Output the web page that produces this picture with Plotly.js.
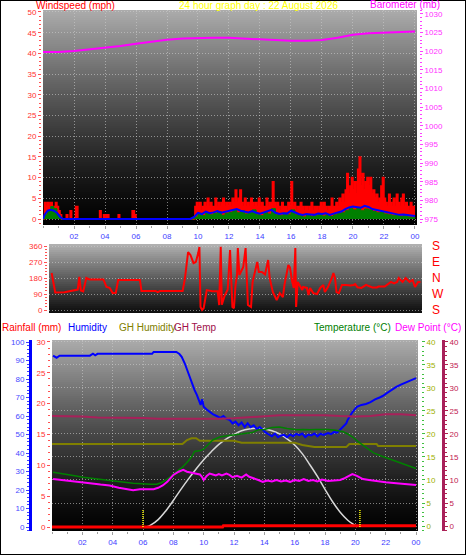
<!DOCTYPE html>
<html><head><meta charset="utf-8">
<script src="https://cdn.plot.ly/plotly-3.0.1.min.js"></script>
<style>html,body{margin:0;padding:0;background:#fff;}#chart{width:466px;height:555px;}</style>
</head><body><div id="chart"></div>
<script>
// ---------------- DATA ----------------
const hourTicks = [2,4,6,8,10,12,14,16,18,20,22,24];
const hourLabels = ['02','04','06','08','10','12','14','16','18','20','22','00'];
const hours = [0,1,2,3,4,5,6,7,8,9,10,11,12,13,14,15,16,17,18,19,20,21,22,23,24];

// Barometer (mb), hourly
const barometer = [1019.8,1019.8,1020.1,1020.5,1020.9,1021.4,1022.0,1022.6,1023.1,1023.4,1023.6,1023.6,1023.6,1023.4,1023.1,1023.0,1022.8,1022.8,1023.0,1023.6,1024.4,1024.8,1025.0,1025.2,1025.3];

// Wind gust (mph) - early, irregular readings
const gustEarlyTimes = [0,0.1,0.2,0.3,0.4,0.5,0.6,0.7,0.8,0.9,1.0,1.1,1.2,1.5,1.6,1.75,1.85,2.1,2.25,3.65,3.75,3.9,4.0,4.1,4.25,4.85,4.95,5.75,5.9,6.0,9.7];
const gustEarly = [0,4,3,4,3,4,3,3,4,3,2,1,0,1,0,2,0,3,0,2,0,1,0,1,0,1,0,2,1,0,0];
// Wind gust (mph) - every 6 minutes from 09:48
const gustLateStart = 9.8, gustLateStep = 0.1;
const gustLate = [3,4,3,4,2,3,4,3,5,3,4,3,
  3,5,3,4,3,4,5,3,4,3,
  4,3,5,4,7,4,5,7,4,3,
  5,3,4,3,5,4,3,4,3,5,
  3,4,3,3,5,3,4,4,9,4,
  3,4,3,2,4,3,3,2,4,3,
  9,3,4,2,3,3,4,3,2,3,
  3,2,3,4,2,3,3,2,3,4,
  3,4,3,2,3,3,5,3,3,4,
  3,5,4,6,4,7,11,6,8,10,
  7,9,6,12,15,8,11,7,9,10,
  8,10,6,7,5,6,4,5,8,10,
  5,4,3,6,4,3,5,3,6,4,
  3,5,6,3,4,3,2,4,3,3,
  3];
// Average wind and latest wind (mph)
const avgEarlyTimes = [0,0.1,0.3,0.5,0.7,0.9,1.1,1.3,9.5];
const avgEarly = [0,1,2,2.2,2,1.5,0.5,0,0];
const latestEarly = [0,1,2,3,2.5,1,0,0,0];
const avgLateStart = 9.75, avgLateStep = 0.25;
const avgLate = [0.5,1.5,1.2,1.8,1.4,1.6,1.9,1.5,1.7,2.0,
  2.2,2.4,2.0,1.8,1.6,1.9,1.5,1.3,1.6,1.8,
  2.2,1.5,1.2,1.4,1.3,2.0,1.5,1.2,1.0,1.2,
  1.1,1.0,1.3,1.2,1.4,1.0,1.3,1.6,1.8,2.4,
  2.8,3.0,2.9,2.7,3.2,2.9,2.4,2.2,2.0,1.8,
  1.6,1.3,1.2,1.0,1.1,1.0,0.8,0.7];
const latestLate = [0.5,1.2,0.8,1.5,1.0,1.3,1.8,0.9,1.4,1.6,
  2.3,1.5,2.0,1.2,1.5,2.2,1.0,0.8,1.5,1.2,
  2.5,1.0,0.8,1.4,1.0,2.2,1.0,0.8,0.5,1.0,
  0.6,0.8,1.2,0.7,1.0,0.6,1.0,1.3,1.5,2.0,
  2.5,2.2,2.6,2.0,2.4,2.2,1.8,1.5,1.6,1.2,
  1.0,0.8,1.0,0.6,0.8,0.5,0.4,0.3];

// Wind direction (degrees)
const dirTimes = [0.17,0.4,1.0,1.3,1.6,1.85,1.95,2.05,2.2,2.4,
  2.6,3.5,3.7,3.9,4.1,4.3,4.45,5.85,5.95,6.85,
  7.0,7.15,8.6,8.75,8.95,9.1,9.3,9.45,9.6,9.68,
  9.75,9.85,9.95,10.15,10.5,10.85,10.95,11.05,11.12,11.3,
  11.5,11.65,11.8,11.9,12.0,12.1,12.15,12.25,12.5,12.65,
  12.8,13.0,13.1,13.4,13.5,13.7,13.9,14.1,14.2,14.4,
  14.65,14.85,15.05,15.15,15.4,15.5,15.65,15.75,15.85,15.9,
  16.0,16.1,16.3,16.35,16.6,16.7,16.8,17.0,17.25,17.45,
  17.65,17.75,17.95,18.2,18.3,18.4,18.5,18.65,18.85,19.1,
  19.4,19.6,19.7,19.85,20.1,20.4,20.6,20.8,21.1,21.2,
  21.6,21.8,22.0,22.2,22.4,22.5,22.75,22.95,23.2,23.4,
  23.55,23.75,23.9];
const dirValues = [208,99,100,105,112,115,187,110,105,180,
  172,172,130,125,95,97,169,169,107,107,
  100,107,107,180,326,310,264,270,320,354,
  17,0,10,112,105,105,28,355,30,80,
  115,337,17,10,140,197,348,197,242,348,
  28,17,158,270,214,214,200,281,180,101,
  56,95,73,141,253,240,158,124,348,17,
  158,141,112,129,124,84,124,95,90,124,
  141,101,129,180,208,180,101,95,141,141,
  138,141,146,128,124,141,135,127,127,132,
  132,146,158,150,158,180,158,180,158,169,
  129,158,158];
const dirTickVals = [0,90,180,270,360];
const compassLabels = ['S','W','N','E','S'];

// Humidity (%)
const humTimes = [0.07,0.3,0.5,2.5,2.7,2.85,3.0,6.6,6.7,8.2,
  8.4,8.55,8.75,8.9,9.05,9.2,9.4,9.55,9.7,9.8,
  9.9,10.0,10.2,10.4,10.6,10.85,11.1,11.3,11.5,11.7,
  11.9,12.1,12.3,12.5,12.7,12.9,13.1,13.3,13.5,13.7,
  13.9,14.1,14.3,14.5,14.7,14.9,15.1,15.3,15.5,15.7,
  15.9,16.1,16.3,16.5,16.7,16.9,17.1,17.3,17.5,17.7,
  17.9,18.2,18.4,18.6,18.8,19.0,19.2,19.4,19.5,19.6,
  19.8,20.0,20.1,20.4,20.7,21.0,21.3,21.6,21.8,22.1,
  22.4,22.7,23.0,23.4,23.7,24.0];
const humValues = [92.6,91.5,92.6,92.6,93.7,92.8,93.6,93.6,94.6,94.6,
  93.5,92,88.5,85,81,78,74,71.4,68,66,
  69,65,63.5,62,61,60,59,60,58.5,58,
  56,57,55,56.5,54,56,54,55,53,54,
  52.4,51,50,49,50.5,48.5,49.5,49.8,48.5,50,
  49,50.3,49.6,50.5,48.6,50,49.5,50.5,49,50.4,
  49.8,50.8,50.2,51.4,51,52.5,54,56,58,59.5,
  62,64,65,66,66.5,67.5,69,70,70.8,72.5,
  74.3,75.7,77,78.4,79.7,80.5];

// GH humidity (%)
const ghHumTimes = [0,8.6,8.9,9.2,9.5,9.75,12,12.5,16,16.3,16.5,17.3,19.4,19.6,21.4,21.5,24];
const ghHumValues = [44.9,44.9,47,48,48,46.6,46.6,45.6,45.6,44.9,44.3,43.2,43.2,44.9,44.9,43.8,43.8];

// GH temp (°C), hourly
const ghTemp = [23.9,23.9,23.8,23.6,23.6,23.5,23.5,23.3,23.3,23.3,23.2,23.3,23.4,23.6,23.9,24.1,24.1,24.1,24.1,23.9,23.8,23.9,24.3,24.3,24.1];

// Temperature (°C)
const tempTimes = [0.07,0.5,1.0,1.5,2.05,2.5,3.0,3.8,4.5,5.35,
  6.1,6.5,6.9,7.2,7.55,7.9,8.2,8.6,8.9,9.2,
  9.4,9.6,9.8,10.0,10.3,10.6,11.1,11.5,11.95,12.5,
  13.2,13.6,14.0,14.5,15.0,15.5,16.1,16.6,17.0,17.4,
  18.2,18.7,19.2,19.5,19.8,20.2,20.75,21.2,21.8,22.3,
  22.9,23.5,24.0];
const tempValues = [11.7,11.5,11.2,10.9,10.6,10.4,10.2,9.9,9.6,9.3,
  9.1,9.1,9.1,9.4,10.1,10.9,11.8,12.8,13.8,15.0,
  16.2,16.3,16.4,16.7,17.8,18.7,19.4,19.6,19.8,20.0,
  20.3,20.9,21.0,21.4,21.5,21.2,20.9,21.0,20.9,21.0,
  21.0,20.8,20.5,20.0,19.4,18.3,16.9,15.9,15.1,14.5,
  13.8,13.1,12.5];

// Dew point (°C)
const dewTimes = [0.07,1.0,1.9,2.5,3.2,3.8,4.4,4.9,5.35,5.8,
  6.3,6.7,7.0,7.3,7.6,8.0,8.35,8.65,8.9,9.3,
  9.5,9.75,9.9,10.0,10.2,10.4,10.6,10.8,11.0,11.2,
  11.5,11.7,11.9,12.2,12.5,12.8,13.0,13.3,13.6,13.9,
  14.2,14.5,14.8,15.1,15.4,15.7,16.0,16.3,16.6,16.9,
  17.2,17.5,17.8,18.2,18.6,19.0,19.3,19.6,19.8,20.1,
  20.5,20.9,21.3,21.6,22.0,22.7,23.3,24.0];
const dewValues = [10.2,9.9,9.6,9.3,9.0,8.8,8.3,8.1,7.8,8.0,
  8.0,8.0,8.3,8.8,9.6,11.1,11.8,12.2,11.8,11.5,
  11.3,11.2,10.6,10.0,10.9,11.4,11.2,11.0,11.3,11.0,
  11.4,11.1,10.6,10.9,10.5,11.2,10.7,10.4,10.0,9.6,
  9.9,9.7,10.0,9.7,9.9,9.6,10.0,9.8,10.2,9.8,
  10.0,9.7,10.1,9.8,9.9,10.0,10.4,11.0,11.3,10.9,
  10.2,10.0,9.8,9.6,9.5,9.3,9.1,8.9];

// Solar curve (plotted on rainfall scale)
const solarTimes = [6.2,6.5,7,7.5,8,8.5,9,9.5,10,10.5,11,11.5,12,12.5,13,13.5,14,14.5,15,15.5,16,16.5,17,17.5,18,18.5,19,19.5,20,20.1];
const solarValues = [0,0.3,1.2,2.6,4.3,6.1,7.8,9.4,10.9,12.2,13.4,14.3,15.0,15.6,15.9,16.0,15.9,15.6,15.1,14.3,13.3,11.9,10.1,8.2,6.1,4.1,2.4,1.1,0.2,0];

// Rainfall (mm)
const rainTimes = [0,11.25,11.3,24];
const rainValues = [0,0,0.2,0.2];

// Sunrise / sunset markers
const sunEvents = [6.0, 20.3];
const sunMarkerTop = 2.8;

// ---------------- BUILD ----------------
const W = 466, H = 555;
const px = v => v / W, py = v => 1 - v / H;
const tickFam = 'Liberation Sans Narrow, Liberation Sans, Arial, sans-serif';
const titleFam = 'Liberation Sans, Arial, sans-serif';
const gridC = 'rgba(205,205,205,0.6)';
const gridDash = '1px,2px';

const gustTimes = gustEarlyTimes.concat(gustLate.map((_, i) => +(gustLateStart + i * gustLateStep).toFixed(2)));
const gustVals = gustEarly.concat(gustLate);
const avgTimes = avgEarlyTimes.concat(avgLate.map((_, i) => avgLateStart + i * avgLateStep));
const avgVals = avgEarly.concat(avgLate);
const latestVals = latestEarly.concat(latestLate);

const traces = [
  {x: gustTimes, y: gustVals, xaxis: 'x', yaxis: 'y', mode: 'lines', line: {color: '#ff0000', width: 1.5, shape: 'hv'}, fill: 'tozeroy', fillcolor: '#ff0000'},
  {x: avgTimes, y: latestVals, xaxis: 'x', yaxis: 'y', mode: 'lines', line: {color: '#008000', width: 1, shape: 'hv'}, fill: 'tozeroy', fillcolor: '#008000'},
  {x: avgTimes, y: avgVals, xaxis: 'x', yaxis: 'y', mode: 'lines', line: {color: '#0000ff', width: 2}},
  {x: hours, y: barometer, xaxis: 'x', yaxis: 'y2', mode: 'lines', line: {color: '#ff00ff', width: 2}},

  {x: dirTimes, y: dirValues, xaxis: 'x2', yaxis: 'y3', mode: 'lines', line: {color: '#ff0000', width: 2}},
  {x: [], y: [], xaxis: 'x2', yaxis: 'y4', mode: 'lines'},

  {x: ghHumTimes, y: ghHumValues, xaxis: 'x3', yaxis: 'y6', mode: 'lines', line: {color: '#808000', width: 2}},
  {x: hours, y: ghTemp, xaxis: 'x3', yaxis: 'y8', mode: 'lines', line: {color: '#a8205a', width: 2}},
  {x: tempTimes, y: tempValues, xaxis: 'x3', yaxis: 'y7', mode: 'lines', line: {color: '#008000', width: 1.5}},
  {x: humTimes, y: humValues, xaxis: 'x3', yaxis: 'y6', mode: 'lines', line: {color: '#0000ff', width: 2}},
  {x: dewTimes, y: dewValues, xaxis: 'x3', yaxis: 'y8', mode: 'lines', line: {color: '#ff00ff', width: 2}},
  {x: solarTimes, y: solarValues, xaxis: 'x3', yaxis: 'y5', mode: 'lines', line: {color: '#d8d8d8', width: 1.5, shape: 'spline'}},
  {x: rainTimes, y: rainValues, xaxis: 'x3', yaxis: 'y5', mode: 'lines', line: {color: '#ff0000', width: 3}},
];
sunEvents.forEach(t => traces.push({x: [t, t], y: [0, sunMarkerTop], xaxis: 'x3', yaxis: 'y5', mode: 'lines', line: {color: '#ffff00', width: 1.5, dash: '1px,1px'}}));

// gradient background bands
const shapes = [];
function bands(x0, x1, y0, y1, fn) {
  const step = 2;
  for (let y = y0; y < y1; y += step) {
    const f = (y - y0 + step / 2) / (y1 - y0);
    const g = Math.round(fn(f));
    shapes.push({type: 'rect', xref: 'paper', yref: 'paper', x0: px(x0), x1: px(x1), y0: py(Math.min(y + step, y1)), y1: py(y), fillcolor: `rgb(${g},${g},${g})`, line: {width: 0}, layer: 'below'});
  }
}
bands(43, 417, 10, 225, f => 172 * Math.pow(1 - f, 1.3));
bands(49, 422, 244, 313, f => 14 + 165 * Math.pow(1 - f, 1.1));
bands(52, 418, 340, 531, f => 172 * Math.pow(1 - f, 1.3));
shapes.push({type: 'rect', xref: 'paper', yref: 'paper', x0: 0, x1: 1, y0: 0, y1: 1, line: {color: '#000', width: 2}, layer: 'above'});

const tf = (c, s) => ({family: tickFam, size: s || 8, color: c});
const xBase = {range: [0, 24.13], tickmode: 'array', tickvals: hourTicks, ticktext: hourLabels, ticks: 'outside', ticklen: 3, tickcolor: '#a0a0a0',
  minor: {tickmode: 'linear', tick0: 0, dtick: 1, ticks: 'outside', ticklen: 2, tickcolor: '#a0a0a0'},
  showgrid: true, gridcolor: gridC, griddash: gridDash, gridwidth: 1, zeroline: false, showline: false, tickfont: tf('#4040ff'), fixedrange: true};

const layout = {
  width: W, height: H, margin: {l: 0, r: 0, t: 0, b: 0}, paper_bgcolor: '#ffffff', plot_bgcolor: 'rgba(0,0,0,0)',
  showlegend: false, hovermode: false, font: {family: tickFam, size: 8},
  xaxis: Object.assign({}, xBase, {domain: [px(43), px(417)], anchor: 'y'}),
  yaxis: {domain: [py(225), py(10)], range: [-1.45, 50.48], anchor: 'free', position: px(41), side: 'left',
    tickmode: 'array', tickvals: [0,5,10,15,20,25,30,35,40,45,50], ticks: 'outside', ticklen: 3, tickcolor: '#ff5050',
    minor: {tickmode: 'linear', tick0: 0, dtick: 1, ticks: 'outside', ticklen: 2, tickcolor: '#ff5050'},
    showgrid: true, gridcolor: gridC, griddash: gridDash, zeroline: false, showline: false, tickfont: tf('#ff3030')},
  yaxis2: {overlaying: 'y', side: 'right', range: [973.39, 1031.07], anchor: 'free', position: px(419),
    tickmode: 'array', tickvals: [975,980,985,990,995,1000,1005,1010,1015,1020,1025,1030], ticks: 'outside', ticklen: 3, tickcolor: '#ff40ff',
    minor: {tickmode: 'linear', tick0: 975, dtick: 1, ticks: 'outside', ticklen: 2, tickcolor: '#ff40ff'},
    showgrid: false, zeroline: false, showline: false, tickfont: tf('#ff30ff')},

  xaxis2: {domain: [px(49), px(422)], anchor: 'y3', range: [0, 24], showticklabels: false, ticks: '', showgrid: false, zeroline: false, showline: false},
  yaxis3: {domain: [py(313), py(244)], range: [-16.9, 371.25], anchor: 'free', position: px(47), side: 'left',
    tickmode: 'array', tickvals: dirTickVals, ticks: 'outside', ticklen: 3, tickcolor: '#ff5050',
    minor: {tickmode: 'linear', tick0: 0, dtick: 18, ticks: 'outside', ticklen: 2, tickcolor: '#ff5050'},
    showgrid: true, gridcolor: gridC, griddash: gridDash, zeroline: false, showline: false, tickfont: tf('#ff3030')},
  yaxis4: {overlaying: 'y3', side: 'right', range: [-16.9, 371.25], anchor: 'free', position: px(431),
    tickmode: 'array', tickvals: dirTickVals, ticktext: compassLabels, ticks: '', showgrid: false, zeroline: false, showline: false,
    tickfont: {family: titleFam, size: 12, color: '#ff0000'}},

  xaxis3: Object.assign({}, xBase, {domain: [px(52), px(418)], anchor: 'y5'}),
  yaxis5: {domain: [py(531), py(340)], range: [-0.649, 30.32], anchor: 'free', position: px(50), side: 'left',
    tickmode: 'array', tickvals: [0,5,10,15,20,25,30], ticks: 'outside', ticklen: 3, tickcolor: '#ff5050',
    minor: {tickmode: 'linear', tick0: 0, dtick: 1, ticks: 'outside', ticklen: 2, tickcolor: '#ff5050'},
    showgrid: false, zeroline: false, showline: false, tickfont: tf('#ff3030')},
  yaxis6: {overlaying: 'y5', side: 'left', range: [-2.16, 101.08], anchor: 'free', position: px(30),
    tickmode: 'array', tickvals: [0,10,20,30,40,50,60,70,80,90,100], ticks: 'outside', ticklen: 3, tickcolor: '#4040ff',
    minor: {tickmode: 'linear', tick0: 0, dtick: 2, ticks: 'outside', ticklen: 2, tickcolor: '#4040ff'},
    showline: true, linecolor: '#0000ff', linewidth: 3, showgrid: false, zeroline: false, tickfont: tf('#4848ff')},
  yaxis7: {overlaying: 'y5', side: 'right', range: [-1.087, 40.43], anchor: 'free', position: px(421),
    tickmode: 'array', tickvals: [0,5,10,15,20,25,30,35,40], ticks: 'outside', ticklen: 3, tickcolor: '#40c040',
    minor: {tickmode: 'linear', tick0: 0, dtick: 1, ticks: 'outside', ticklen: 2, tickcolor: '#40c040'},
    showgrid: true, gridcolor: gridC, griddash: gridDash, zeroline: false, showline: false, tickfont: tf('#a0b000')},
  yaxis8: {overlaying: 'y5', side: 'right', range: [-1.087, 40.43], anchor: 'free', position: px(443),
    tickmode: 'array', tickvals: [0,5,10,15,20,25,30,35,40], ticks: 'outside', ticklen: 3, tickcolor: '#b02050',
    minor: {tickmode: 'linear', tick0: 0, dtick: 1, ticks: 'outside', ticklen: 2, tickcolor: '#b02050'},
    showline: true, linecolor: '#a8205a', linewidth: 3, showgrid: false, zeroline: false, tickfont: tf('#c01850')},

  shapes: shapes,
  annotations: [
    {text: 'Windspeed (mph)', x: px(35), y: py(5), xanchor: 'left', yanchor: 'middle', color: '#f00'},
    {text: '24 hour graph day : 22 August 2026', x: px(258), y: py(5), xanchor: 'center', yanchor: 'middle', color: '#ffff00'},
    {text: 'Barometer (mb)', x: px(441), y: py(4.5), xanchor: 'right', yanchor: 'middle', color: '#ff00ff'},
    {text: 'Rainfall (mm)', x: px(1), y: py(327), xanchor: 'left', yanchor: 'middle', color: '#ff0000'},
    {text: 'Humidity', x: px(67), y: py(327), xanchor: 'left', yanchor: 'middle', color: '#0000ff'},
    {text: 'GH Humidity', x: px(118), y: py(327), xanchor: 'left', yanchor: 'middle', color: '#808000'},
    {text: 'GH Temp', x: px(173), y: py(327), xanchor: 'left', yanchor: 'middle', color: '#a0104a'},
    {text: 'Temperature (°C)', x: px(313), y: py(327), xanchor: 'left', yanchor: 'middle', color: '#008000'},
    {text: 'Dew Point (°C)', x: px(462), y: py(327), xanchor: 'right', yanchor: 'middle', color: '#ff00ff'},
  ].map(a => ({text: a.text, x: a.x, y: a.y, xref: 'paper', yref: 'paper', xanchor: a.xanchor, yanchor: a.yanchor, showarrow: false,
    font: {family: titleFam, size: 10, color: a.color}, borderpad: 0})),
};

Plotly.newPlot('chart', traces, layout, {staticPlot: true, displayModeBar: false});
</script></body></html>
